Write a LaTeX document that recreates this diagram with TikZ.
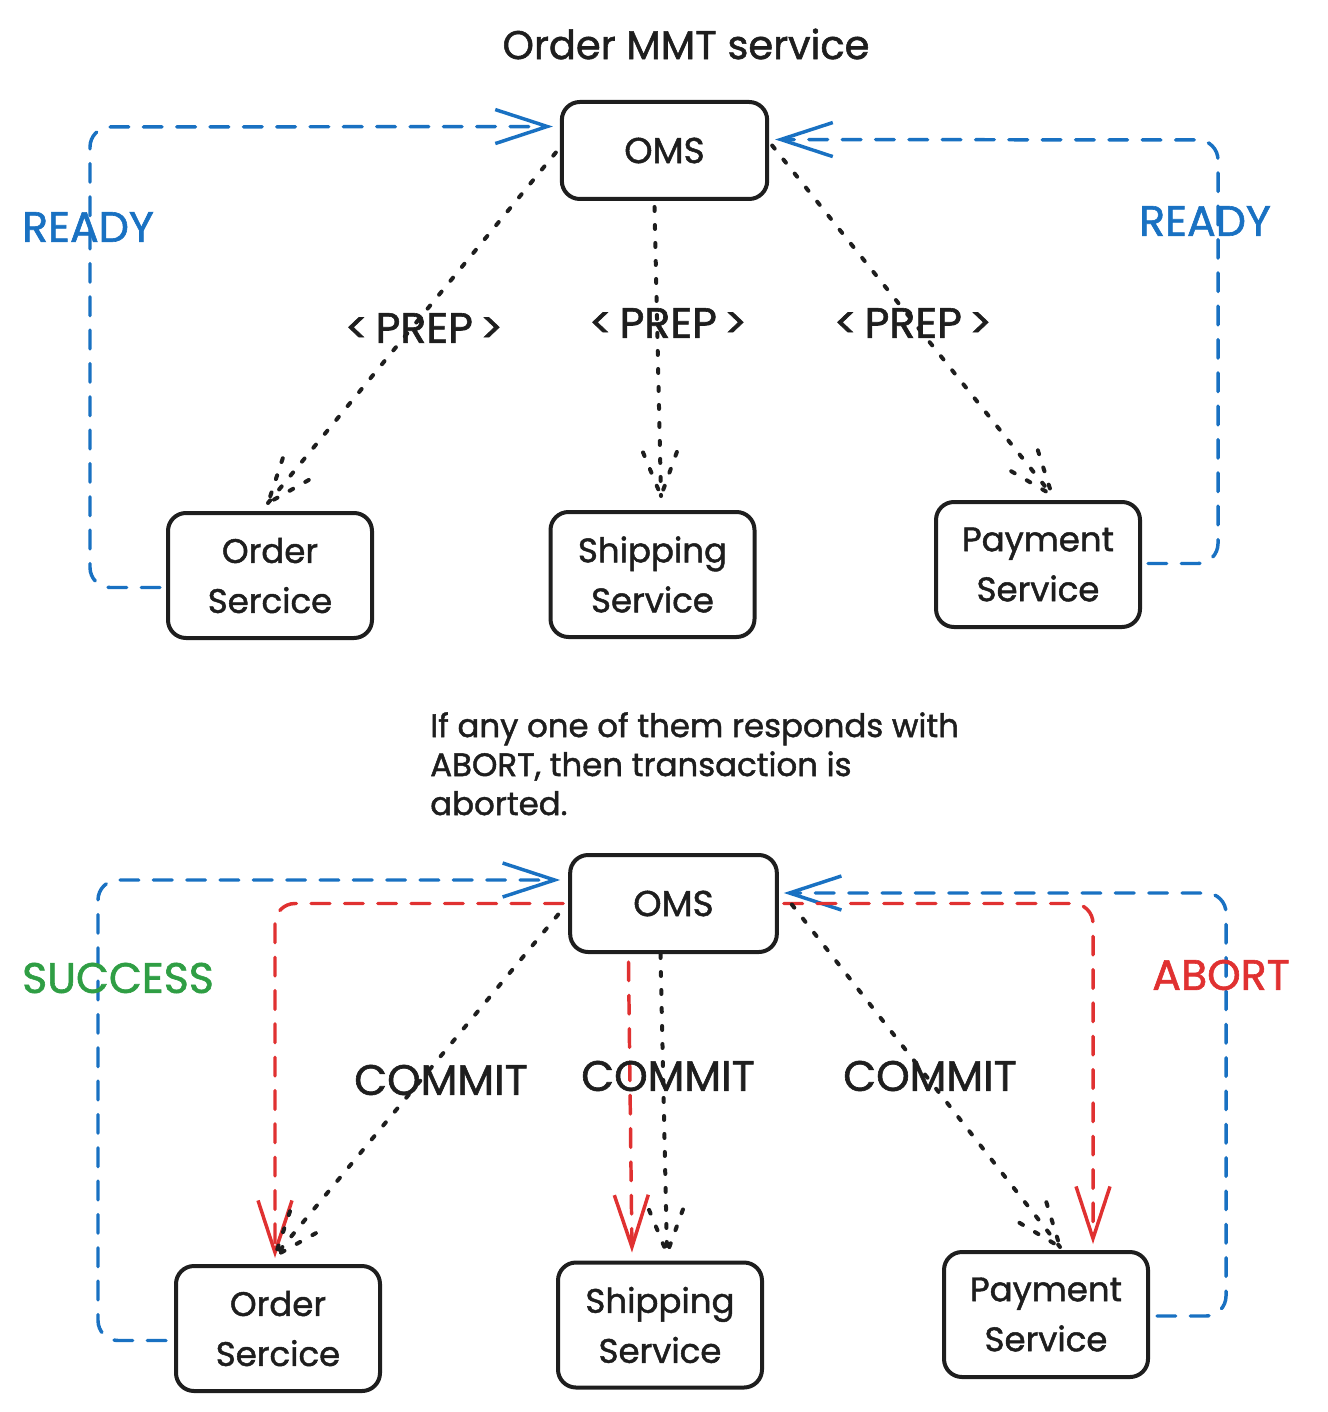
\documentclass[tikz,border=0pt]{standalone}
\usepackage{fontspec}
\setmainfont{Poppins}[RawFeature={embolden=1.4}]
\usetikzlibrary{arrows.meta,calc,decorations.markings}
\definecolor{ink}{HTML}{1E1E1E}
\definecolor{xblue}{HTML}{1971C2}
\definecolor{xred}{HTML}{E03131}
\definecolor{xgreen}{HTML}{2F9E44}
\begin{document}
\begin{tikzpicture}[x=0.75pt,y=-0.75pt,
  box/.style={draw=ink,line width=3pt,rounded corners=13.5pt,minimum width=153pt,minimum height=93.75pt,inner sep=0pt,align=center,text=ink,font=\fontsize{25.5pt}{37.5pt}\selectfont},
  omsbox/.style={box,minimum width=154pt,minimum height=72.75pt,font=\fontsize{27pt}{37.5pt}\selectfont},
  lbl/.style={inner sep=0pt,font=\fontsize{32pt}{36pt}\selectfont},
  dotline/.style={draw=ink,line width=3pt,line cap=round,dash pattern=on 3pt off 10.5pt},
  dotarr/.style={dotline,postaction={decorate},decoration={markings,mark=at position 1 with {\draw[dotline] (-44,17) -- (0,0) -- (-44,-17);}}},
  vtip/.style={-{Straight Barb[length=39pt,width=25.5pt,line width=2.6pt]}},
  bluedash/.style={draw=xblue,line width=2.6pt,line cap=round,dash pattern=on 14pt off 11pt,rounded corners=15pt,vtip},
  reddash/.style={draw=xred,line width=2.6pt,line cap=round,dash pattern=on 14pt off 11pt,rounded corners=15pt,vtip}
]
\useasboundingbox (0,0) rectangle (1327,1412);

% ---------- top ----------
\node[lbl,text=ink,font=\fontsize{30pt}{34pt}\selectfont] (title) at (686,44) {Order MMT service};
\node[omsbox] (oms1) at (664.5,150.5) {OMS};
\node[box] (os1) at (270,575.5) {Order\\Sercice};
\node[box] (sh1) at (652.5,574.5) {Shipping\\Service};
\node[box] (ps1) at (1038,564.5) {Payment\\Service};

\draw[bluedash] ($(os1.west)+(-6,12)$) -| (90,127) -- ($(oms1.west)+(-7,-24)$);
\draw[bluedash] ($(ps1.east)+(6,-1)$) -| (1218,140) -- ($(oms1.east)+(6,-11)$);

\draw[dotarr] ($(oms1.west)+(-4,2)$) -- ($(os1.north)+(-2,-8)$);
\draw[dotarr] ($(oms1.south)+(-10,6)$) -- ($(sh1.north)+(8.5,-14)$);
\draw[dotarr] ($(oms1.east)+(3,-5)$) -- ($(ps1.north)+(14,-5)$);

\node[lbl,text=xblue] (r1) at (88,227) {READY};
\node[lbl,text=xblue] (r2) at (1205,221) {READY};
\node[lbl,text=ink] (p1) at (424,328) {<\,PREP\,>};
\node[lbl,text=ink] (p2) at (668,323) {<\,PREP\,>};
\node[lbl,text=ink] (p3) at (913,323) {<\,PREP\,>};

% ---------- bottom ----------
\node[anchor=north west,inner sep=0pt,align=left,text=ink,font=\fontsize{24.3pt}{29.25pt}\selectfont] (note) at (430,712) {If any one of them responds with\\ABORT, then transaction is\\aborted.};
\node[omsbox,minimum width=155pt] (oms2) at (673.5,903.5) {OMS};
\node[box] (os2) at (278,1328.5) {Order\\Sercice};
\node[box] (sh2) at (660,1325) {Shipping\\Service};
\node[box] (ps2) at (1046,1314.5) {Payment\\Service};

\draw[bluedash] ($(os2.west)+(-8,12)$) -| (98,880) -- ($(oms2.west)+(-8,-23.5)$);
\draw[bluedash] ($(ps2.east)+(7,1.5)$) -| (1226,893) -- ($(oms2.east)+(5,-10.5)$);

\draw[reddash] ($(oms2.west)+(-5,0)$) -| ($(os2.north)+(-3,-6)$);
\draw[reddash] ($(oms2.south)+(-45,8)$) -- ($(sh2.north)+(-28,-8)$);
\draw[reddash] ($(oms2.east)+(5,0)$) -| ($(ps2.north)+(47,-6)$);

\draw[dotarr] ($(oms2.west)+(-10,11)$) -- ($(os2.north)+(-3,-8)$);
\draw[dotarr] ($(oms2.south)+(-13,0)$) -- ($(sh2.north)+(7,-7)$);
\draw[dotarr] ($(oms2.east)+(13,1)$) -- ($(ps2.north)+(14,-3)$);

\node[lbl,text=xgreen] (s1) at (118,978) {SUCCESS};
\node[lbl,text=xred] (a1) at (1221,975) {ABORT};
\node[lbl,text=ink] (c1) at (441,1080) {COMMIT};
\node[lbl,text=ink] (c2) at (668,1076) {COMMIT};
\node[lbl,text=ink] (c3) at (930,1076) {COMMIT};
\end{tikzpicture}
\end{document}
